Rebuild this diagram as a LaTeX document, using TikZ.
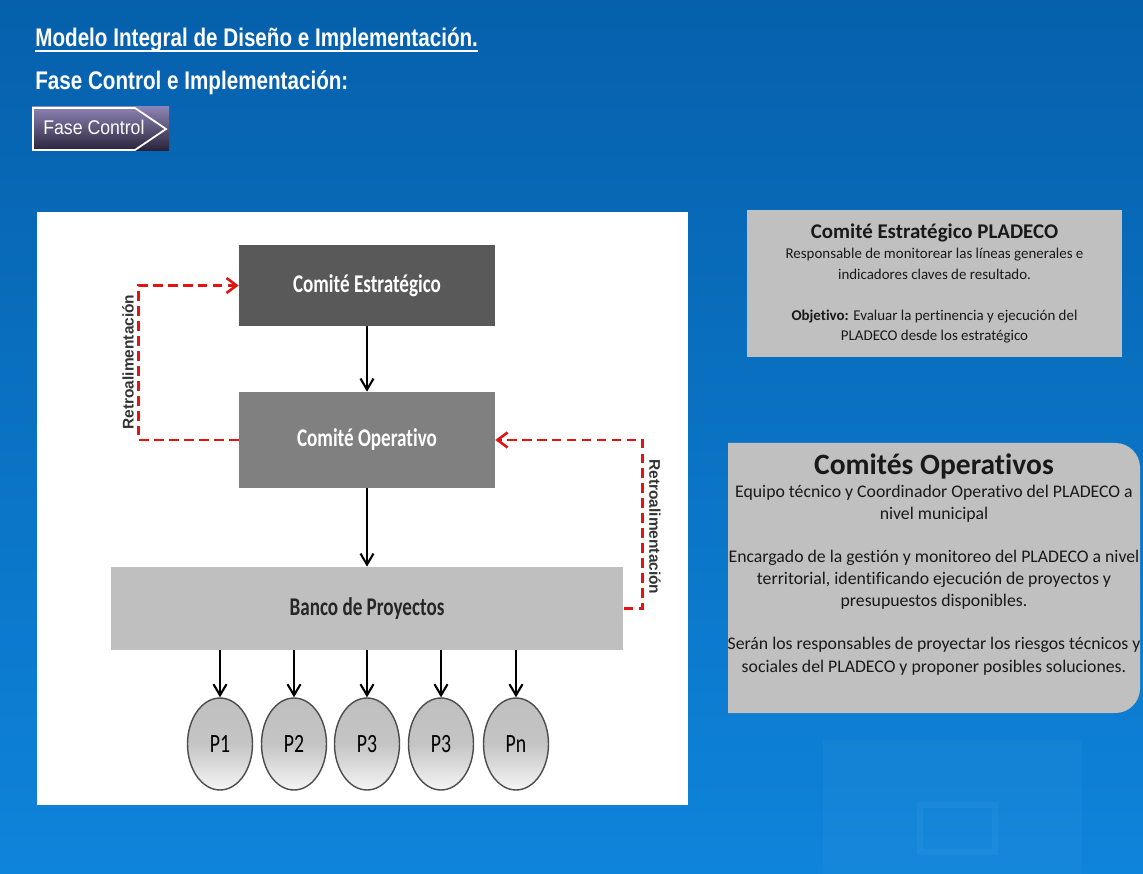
\documentclass[tikz,border=0pt]{standalone}
\usepackage{fontspec}
\setmainfont[Ligatures=NoCommon]{Carlito}
\newfontfamily\headfont[FakeStretch=0.81]{Liberation Sans}
\newfontfamily\tabfont[FakeStretch=0.89]{Liberation Sans}
\newfontfamily\boxfont[FakeStretch=0.75,Ligatures=NoCommon]{Carlito}
\newfontfamily\retrofont{Liberation Sans}
\usetikzlibrary{arrows.meta,positioning,shapes.geometric}

\definecolor{bgtop}{RGB}{6,96,172}
\definecolor{bgbot}{RGB}{14,132,218}
\definecolor{btntop}{RGB}{140,132,180}
\definecolor{btnbot}{RGB}{40,34,56}
\definecolor{retrored}{RGB}{225,20,20}
\definecolor{infogray}{RGB}{192,192,192}

\tikzset{
  comite/.style={rectangle, minimum width=5.12cm, text=white,
    font=\fontsize{14.5}{17}\boxfont\bfseries},
  proy/.style={ellipse, draw=gray!60!black, line width=0.8pt,
    minimum width=1.3cm, minimum height=1.84cm, inner sep=0pt,
    top color=gray!50, bottom color=gray!8, middle color=gray!46,
    font=\fontsize{15}{17}\boxfont},
  flecha/.style={-{Straight Barb[length=2.2mm,width=2.6mm]}, line width=1.2pt},
  retro/.style={-{Straight Barb[length=2mm,width=3mm]}, retrored,
    line width=1.5pt, dash pattern=on 5.5pt off 3pt},
  retrolabel/.style={font=\fontsize{8.8}{10}\retrofont\bfseries, text=black!80},
  infotext/.style={align=center, text=black!90},
}

\begin{document}
\begin{tikzpicture}[x=0.02cm, y=-0.02cm]
  % background
  \useasboundingbox (0,0) rectangle (1143,874);
  \fill[top color=bgtop, bottom color=bgbot] (0,0) rectangle (1143,874);
  \fill[white, opacity=0.03] (823,740) rectangle (1082,874);
  \draw[white, opacity=0.04, line width=3pt] (920,805) rectangle (995,852);

  % heading
  \node[anchor=base west, inner sep=0pt, text=white,
    font=\fontsize{14.5}{17}\headfont\bfseries] (titulo) at (35,47)
    {Modelo Integral de Diseño e Implementación.};
  \draw[white, line width=1.2pt] ([yshift=-2.4pt]titulo.base west)
    -- ([yshift=-2.4pt]titulo.base east);
  \node[anchor=base west, inner sep=0pt, text=white,
    font=\fontsize{14.5}{17}\headfont\bfseries] (fase) at (35,90)
    {Fase Control e Implementación:};

  % tab button
  \fill[top color=btntop, bottom color=btnbot] (32,107) rectangle (169,151);
  \draw[white, line width=1pt] (33,108) -- (135,108) -- (166,129)
    -- (135,150) -- (33,150) -- cycle;
  \node[anchor=base west, inner sep=0pt, text=white,
    font=\fontsize{11.3}{13}\tabfont] (fasebtn) at (43,135) {Fase Control};

  % white panel
  \fill[white] (37,212) rectangle (688,805);

  % committees
  \node[comite, fill=black!65, minimum height=1.62cm] (estr) at (367,285.5)
    {Comité Estratégico};
  \node[comite, fill=black!50, minimum height=1.92cm] (oper) at (367,440)
    {Comité Operativo};
  \node[rectangle, fill=black!25, minimum width=10.26cm, minimum height=1.66cm,
    text=black!85, font=\fontsize{14.5}{17}\boxfont\bfseries] (banco)
    at (367,608.5) {Banco de Proyectos};

  \draw[flecha] (estr) -- (oper);
  \draw[flecha] (oper) -- (banco);

  % projects
  \node[proy] (P1) at (220,744) {P1};
  \node[proy] (P2) at (294,744) {P2};
  \node[proy] (P3) at (367,744) {P3};
  \node[proy] (P3b) at (441,744) {P3};
  \node[proy] (Pn) at (516,744) {Pn};
  \foreach \name in {P1, P2, P3, P3b, Pn}
    \draw[flecha] (banco.south -| \name.north) -- (\name.north);

  % feedback loops
  \draw[retro] (oper.west) -- ++(-100,0) |- (estr.west);
  \node[retrolabel, rotate=90] (retroizq) at (128,362) {Retroalimentación};
  \draw[retro] (banco.east) -- ++(19,0) |- (oper.east);
  \node[retrolabel, rotate=-90] (retroder) at (655,527) {Retroalimentación};

  % info box: strategic committee
  \node[rectangle, fill=infogray, minimum width=7.5cm, minimum height=2.94cm,
    infotext, font=\fontsize{8.5}{11.6}\selectfont] (estrinfo) at (934.5,283.5)
    {{\fontsize{11.9}{14}\selectfont\bfseries Comité Estratégico PLADECO}\\
     Responsable de monitorear las líneas generales e\\
     indicadores claves de resultado.\\[11.6pt]
     \textbf{Objetivo:} Evaluar la pertinencia y ejecución del\\
     PLADECO desde los estratégico};

  % info box: operative committees
  \fill[infogray] (728,443) [rounded corners=14pt] -- (1140,443)
    -- (1140,713) [sharp corners] -- (728,713) -- cycle;
  \node[infotext, anchor=north, font=\fontsize{10.1}{12.6}\selectfont]
    (operinfo) at (934,448)
    {{\fontsize{16.8}{19}\selectfont\bfseries Comités Operativos}\\
     Equipo técnico y Coordinador Operativo del PLADECO a\\
     nivel municipal\\[12pt]
     Encargado de la gestión y monitoreo del PLADECO a nivel\\
     territorial, identificando ejecución de proyectos y\\
     presupuestos disponibles.\\[12pt]
     Serán los responsables de proyectar los riesgos técnicos y\\
     sociales del PLADECO y proponer posibles soluciones.};
\end{tikzpicture}
\end{document}
